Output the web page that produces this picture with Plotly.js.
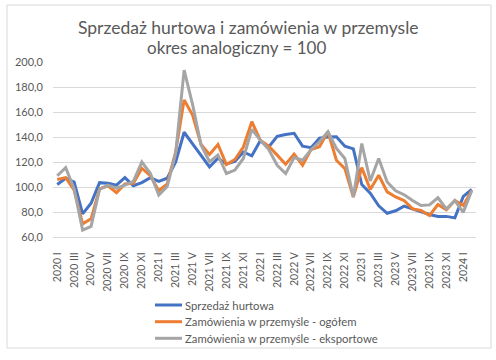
<!DOCTYPE html>
<html>
<head>
<meta charset="utf-8">
<script src="https://cdn.plot.ly/plotly-3.0.1.min.js"></script>
<style>html,body{margin:0;padding:0;background:#fff;}#chart{width:496px;height:360px;}</style>
</head>
<body>
<div id="chart"></div>
<script>
// ---- data ----
var years = [2020, 2021, 2022, 2023, 2024];
var romanMonths = ['I','II','III','IV','V','VI','VII','VIII','IX','X','XI','XII'];
var seriesNames = ['Sprzedaż hurtowa', 'Zamówienia w przemyśle - ogółem', 'Zamówienia w przemyśle - eksportowe'];

var sprzedazHurtowa = [102, 107, 104, 78.5, 87, 103.5, 103, 101.5, 107.5, 101, 103.5, 107.5,
  104.5, 107, 120, 143.8, 134.5, 125.5, 116, 123, 118.5, 120.5, 128, 125,
  137, 132, 140.5, 142, 143, 132.7, 131.5, 139, 140, 140.2, 132.7, 130.5,
  102, 95, 85, 79, 81, 84.7, 82.5, 80.5, 78, 76.5, 76.5, 75.3,
  92.5, 98];
var zamowieniaOgolem = [106, 107.5, 97.5, 70.5, 74.5, 98.5, 101, 95.5, 102.5, 103, 115, 109,
  97, 102.5, 128, 169.7, 157.5, 134, 126, 134, 118, 122, 132, 152.2,
  137.5, 132.7, 125.5, 118.2, 126.3, 117.4, 130, 132.2, 144.2, 121.4, 114.7, 92,
  115.5, 98, 109.4, 96.1, 92, 89.2, 82.5, 81.2, 77.2, 86, 81.7, 89.2,
  85.2, 97.2];
var zamowieniaEksportowe = [109, 115.5, 98.5, 65.5, 68.5, 98, 101.5, 99, 101.5, 104.5, 120, 111,
  93.5, 100.5, 127, 193.5, 166, 133.6, 120.2, 125.6, 110.8, 113.5, 122.8, 146.1,
  137.5, 130, 117.4, 110.7, 123.6, 121.4, 129.8, 136.2, 144.2, 130.8, 122.8, 92,
  134.8, 104.8, 122.8, 104, 97, 93.8, 89.2, 85.2, 85.7, 91.4, 82.5, 89.2,
  79.8, 97.2];

// categories: 2020 I ... 2024 II
var categories = [];
years.forEach(function(y){ romanMonths.forEach(function(m){ categories.push(y + ' ' + m); }); });
categories = categories.slice(0, sprzedazHurtowa.length);
var tickLabels = categories.filter(function(c, i){ return i % 2 === 0; });

var colors = ['#4472C4', '#ED7D31', '#A5A5A5'];
var allSeries = [sprzedazHurtowa, zamowieniaOgolem, zamowieniaEksportowe];
var FONT = 'Lato, "Open Sans", sans-serif';

var traces = allSeries.map(function(vals, k){
  return {
    type: 'scatter', mode: 'lines', x: categories, y: vals, name: seriesNames[k],
    line: {color: colors[k], width: 3, shape: 'linear'}, hoverinfo: 'skip', showlegend: false
  };
});

// plot area in pixels
var L = 53, R = 20, T = 62, B = 123;
var W = 496, H = 360;
var pw = W - L - R, ph = H - T - B;
function px2x(p){ return (p - L) / pw; }
function py2y(p){ return (H - B - p) / ph; }

var annotations = [
  {text: 'Sprzedaż hurtowa i zamówienia w przemysle', xref: 'paper', yref: 'paper',
   x: px2x(248), y: py2y(27), xanchor: 'center', yanchor: 'middle', showarrow: false,
   font: {family: FONT, size: 17.5, color: '#595959'}},
  {text: 'okres analogiczny = 100', xref: 'paper', yref: 'paper',
   x: px2x(236), y: py2y(47.5), xanchor: 'center', yanchor: 'middle', showarrow: false,
   font: {family: FONT, size: 17, color: '#595959'}}
];
var shapes = [
  {type: 'rect', xref: 'paper', yref: 'paper', x0: px2x(7), x1: px2x(491), y0: py2y(5), y1: py2y(348),
   line: {color: '#D9D9D9', width: 1}, fillcolor: 'rgba(0,0,0,0)', layer: 'below'}
];

// legend (below the plot, stacked)
var legendRows = [305, 321.7, 338.3];
seriesNames.forEach(function(name, k){
  shapes.push({type: 'line', xref: 'paper', yref: 'paper',
    x0: px2x(155), x1: px2x(182), y0: py2y(legendRows[k]), y1: py2y(legendRows[k]),
    line: {color: colors[k], width: 3}});
  annotations.push({text: name, xref: 'paper', yref: 'paper',
    x: px2x(183), y: py2y(legendRows[k]), xanchor: 'left', yanchor: 'middle', showarrow: false,
    font: {family: FONT, size: 11.3, color: '#595959'}});
});

var layout = {
  width: W, height: H,
  margin: {l: L, r: R, t: T, b: B, pad: 0},
  paper_bgcolor: '#ffffff', plot_bgcolor: '#ffffff',
  separators: ', ',
  font: {family: FONT, color: '#595959', size: 11},
  showlegend: false,
  xaxis: {
    type: 'category', range: [-0.5, categories.length - 0.5],
    tickvals: tickLabels, ticktext: tickLabels, tickangle: -90,
    showgrid: false, zeroline: false, showline: true, linecolor: '#D9D9D9', linewidth: 1,
    ticks: '', tickfont: {family: FONT, size: 10.5, color: '#595959'}, ticklabelstandoff: 10
  },
  yaxis: {
    range: [60, 200], dtick: 20, tick0: 60, tickformat: '.1f',
    showgrid: true, gridcolor: '#D9D9D9', gridwidth: 1, zeroline: false, showline: false,
    ticks: '', tickfont: {family: FONT, size: 11, color: '#595959'}, ticklabelstandoff: 9
  },
  annotations: annotations,
  shapes: shapes
};

Plotly.newPlot('chart', traces, layout, {staticPlot: true, displayModeBar: false});
</script>
</body>
</html>
